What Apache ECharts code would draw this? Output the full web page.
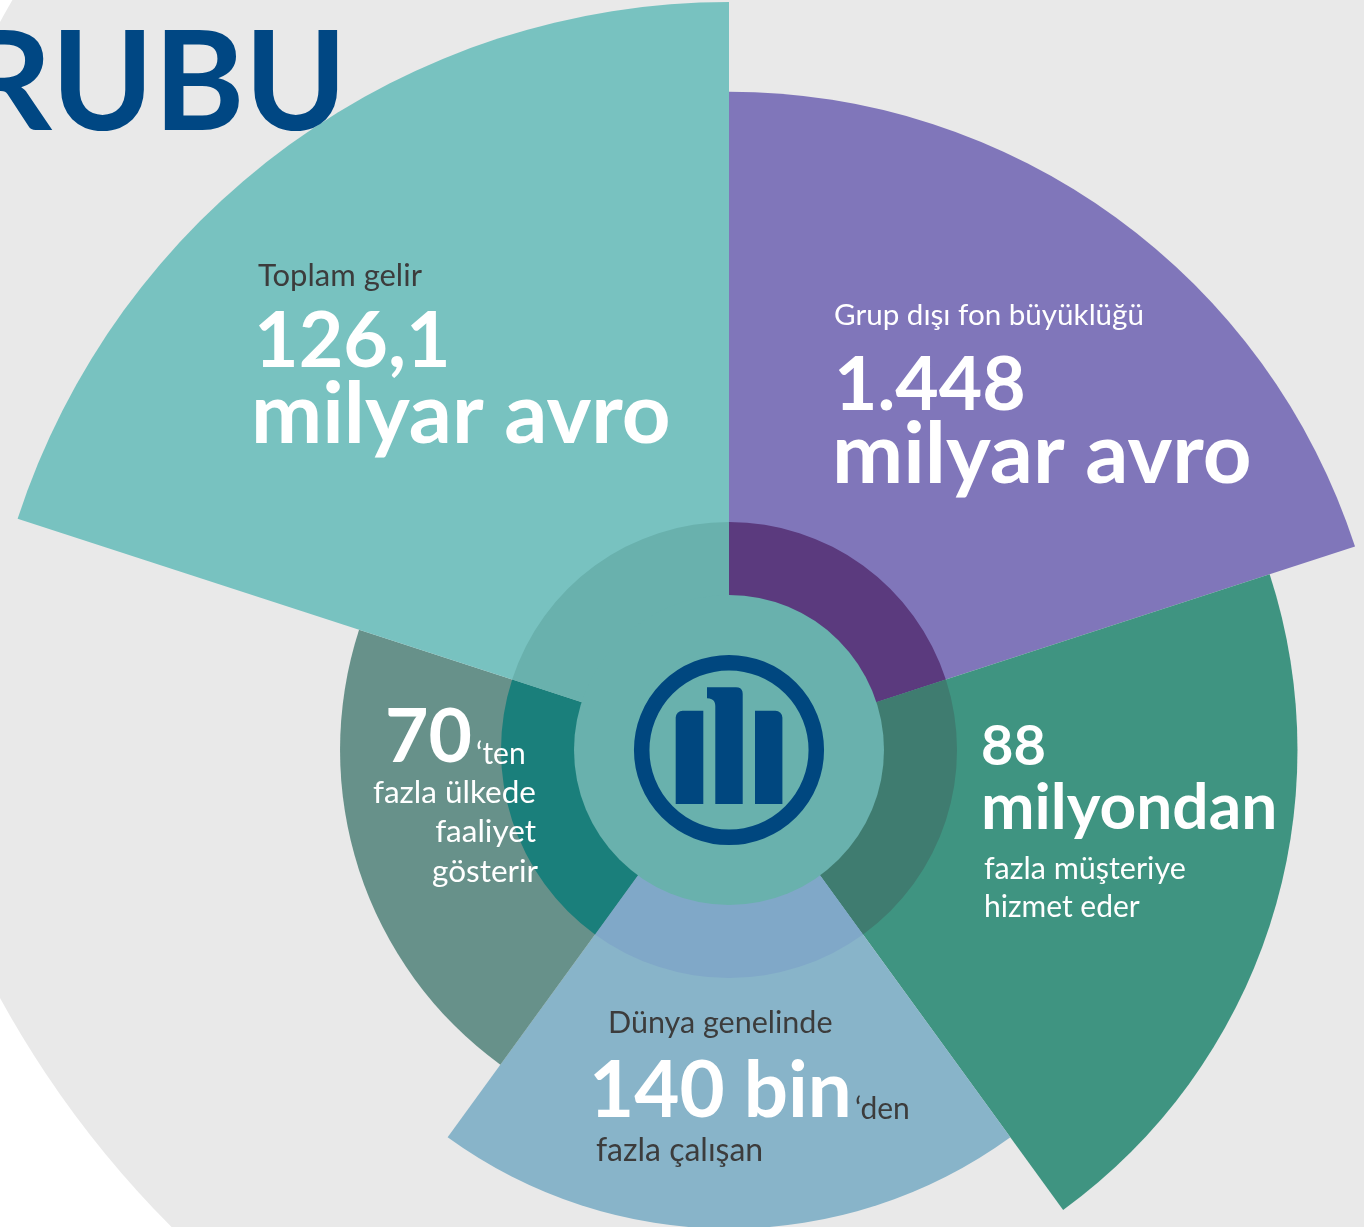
<!DOCTYPE html>
<html>
<head>
<meta charset="utf-8">
<script src="https://cdn.jsdelivr.net/npm/echarts@6/dist/echarts.min.js"></script>
<style>
html,body{margin:0;padding:0;background:#ffffff;}
#chart{width:1364px;height:1227px;}
</style>
</head>
<body>
<div id="chart"></div>
<script>
// ---- data (clockwise from 12 o'clock) ----
var categories = ['Grup dışı fon büyüklüğü', 'Müşteriler', 'Çalışanlar', 'Ülkeler', 'Toplam gelir'];
var petalLength = [88, 76, 64, 52, 100];          // relative petal radius (longest = 100)
var petalColors = ['#8076ba', '#3f9481', '#88b4c9', '#67918a', '#78c2c0'];
var ringColors  = ['#5b3a7e', '#3f7c70', '#80a8c8', '#1a7f7b', '#69b1ad'];
var ringShare   = [1, 1, 1, 1, 1];

var FONT = 'Lato';
var WHITE = '#ffffff', DARK = '#3c3c3c', BLUE = '#00477f';

// text blocks: [text, x, y, size, weight, color, align]
var labels = [
  ['Toplam gelir',            258, 276, 31, 'normal', DARK,  'left'],
  ['126,1',                   254, 342, 77, 'bold',   WHITE, 'left'],
  ['milyar avro',             251, 416, 85, 'bold',   WHITE, 'left'],
  ['Grup dışı fon büyüklüğü', 834, 315, 29.6, 'normal', WHITE, 'left'],
  ['1.448',                   834, 386, 75, 'bold',   WHITE, 'left'],
  ['milyar avro',             832, 456, 85, 'bold',   WHITE, 'left'],
  ['88',                      981, 747, 56, 'bold',   WHITE, 'left'],
  ['milyondan',               981, 808, 64, 'bold',   WHITE, 'left'],
  ['fazla müşteriye',         984, 869, 30.5, 'normal', WHITE, 'left'],
  ['hizmet eder',             984, 907, 30, 'normal', WHITE, 'left'],
  ['70',                      385, 738, 75, 'bold',   WHITE, 'left'],
  ['‘ten',                    476, 754, 30, 'normal', WHITE, 'left'],
  ['fazla ülkede',            536, 793, 31.5, 'normal', WHITE, 'right'],
  ['faaliyet',                536, 832, 31.5, 'normal', WHITE, 'right'],
  ['gösterir',                538, 872, 31.5, 'normal', WHITE, 'right'],
  ['Dünya genelinde',         608, 1023, 30.5, 'normal', DARK, 'left'],
  ['140 bin',                 589, 1092, 78, 'bold',  WHITE, 'left'],
  ['‘den',                    855, 1109, 30, 'normal', DARK, 'left'],
  ['fazla çalışan',           596, 1151, 32, 'normal', DARK, 'left']
];

var CX = 729, CY = 750;

// middle bar of the logo (with the small hook on the left)
function quad(p0, c, p1, n) {
  var pts = [];
  for (var i = 1; i <= n; i++) {
    var t = i / n, u = 1 - t;
    pts.push([u * u * p0[0] + 2 * u * t * c[0] + t * t * p1[0], u * u * p0[1] + 2 * u * t * c[1] + t * t * p1[1]]);
  }
  return pts;
}
var midBar = [[707, 687.3], [736, 687.3]]
  .concat(quad([736, 687.3], [742.7, 687.3], [742.7, 694], 5))
  .concat([[742.7, 804], [715.3, 804], [715.3, 706]])
  .concat(quad([715.3, 706], [715.3, 698.3], [707, 698.3], 6));

var graphics = [
  { type: 'circle', z: -10, silent: true, shape: { cx: 890, cy: 510, r: 1015 }, style: { fill: '#e9e9e9' } },
  { type: 'text', z: 50, silent: true, x: 347, y: 85,
    style: { text: 'RUBU', font: 'bold 138px ' + FONT, fill: '#004783', align: 'right', verticalAlign: 'middle' } },
  // logo
  { type: 'circle', z: 60, silent: true, shape: { cx: CX, cy: CY, r: 87.3 }, style: { fill: 'none', stroke: BLUE, lineWidth: 15.5 } },
  { type: 'rect', z: 60, silent: true, shape: { x: 675.7, y: 710.7, width: 27.6, height: 93.3, r: [7, 0, 0, 0] }, style: { fill: BLUE } },
  { type: 'rect', z: 60, silent: true, shape: { x: 755, y: 710.7, width: 27.4, height: 93.3, r: [0, 7, 0, 0] }, style: { fill: BLUE } },
  { type: 'polygon', z: 60, silent: true, shape: { points: midBar }, style: { fill: BLUE } }
];
labels.forEach(function (l) {
  graphics.push({ type: 'text', z: 70, silent: true, x: l[1], y: l[2],
    style: { text: l[0], font: l[4] + ' ' + l[3] + 'px ' + FONT, fill: l[5], align: l[6], verticalAlign: 'middle' } });
});

var chart = echarts.init(document.getElementById('chart'), null, { renderer: 'canvas' });
chart.setOption({
  backgroundColor: '#ffffff',
  animation: false,
  series: [
    {
      type: 'pie', roseType: 'area', silent: true, z: 2,
      center: [CX, CY], radius: [0, 748], startAngle: 90, clockwise: true,
      label: { show: false }, labelLine: { show: false }, emphasis: { disabled: true },
      itemStyle: { borderWidth: 0 },
      data: categories.map(function (c, i) { return { name: c, value: petalLength[i], itemStyle: { color: petalColors[i] } }; })
    },
    {
      type: 'pie', silent: true, z: 3,
      center: [CX, CY], radius: [154, 228], startAngle: 90, clockwise: true,
      label: { show: false }, labelLine: { show: false }, emphasis: { disabled: true },
      itemStyle: { borderWidth: 0 },
      data: categories.map(function (c, i) { return { name: c, value: ringShare[i], itemStyle: { color: ringColors[i] } }; })
    },
    {
      type: 'pie', silent: true, z: 4,
      center: [CX, CY], radius: [0, 155],
      label: { show: false }, labelLine: { show: false }, emphasis: { disabled: true },
      itemStyle: { borderWidth: 0 },
      data: [{ name: 'Allianz', value: 1, itemStyle: { color: '#69b1ad' } }]
    }
  ],
  graphic: { elements: graphics }
});
</script>
</body>
</html>
